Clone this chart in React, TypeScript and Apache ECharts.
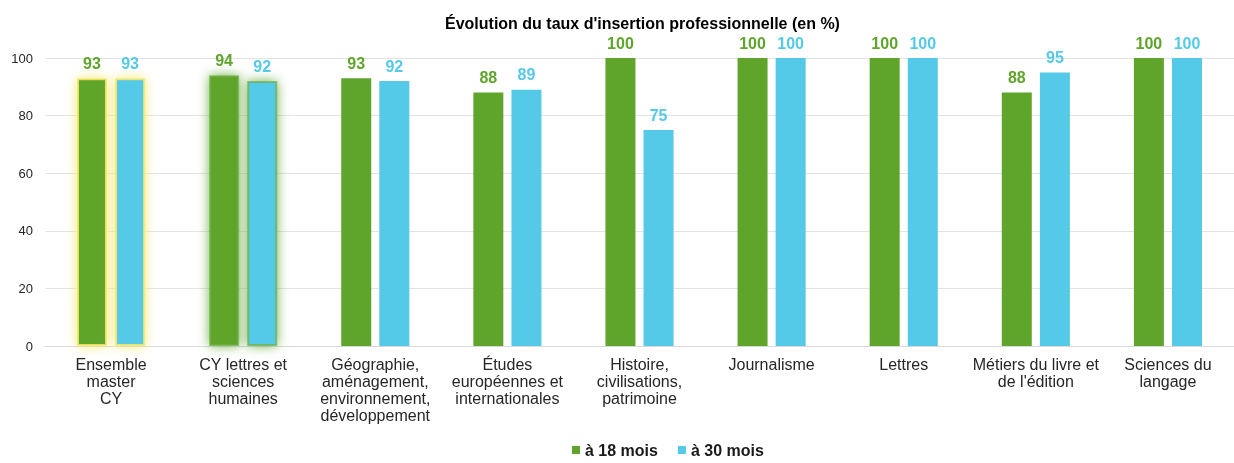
import React, { useEffect, useRef } from "react";
import * as echarts from "echarts";

const categories = [
  "Ensemble\nmaster\nCY",
  "CY lettres et\nsciences\nhumaines",
  "Géographie,\naménagement,\nenvironnement,\ndéveloppement",
  "Études\neuropéennes et\ninternationales",
  "Histoire,\ncivilisations,\npatrimoine",
  "Journalisme",
  "Lettres",
  "Métiers du livre et\nde l'édition",
  "Sciences du\nlangage",
];
const mois18 = [93, 94, 93, 88, 100, 100, 100, 88, 100];
const mois30 = [93, 92, 92, 89, 75, 100, 100, 95, 100];
const seriesNames = ["à 18 mois", "à 30 mois"];
const title = "Évolution du taux d'insertion professionnelle (en %)";

const GREEN = "#5FA52B";
const BLUE = "#54C9E8";
const glowColors: Record<number, string> = { 0: "rgba(247,233,110,1)", 1: "rgba(110,175,70,1)" };
const glowBorders: Record<number, string> = { 0: "rgba(247,233,110,0.85)", 1: "rgba(110,175,70,0.7)" };

function withGlow(values: number[]) {
  return values.map((v, i) =>
    glowColors[i]
      ? {
          value: v,
          itemStyle: {
            shadowBlur: 12,
            shadowColor: glowColors[i],
            shadowOffsetX: 0,
            shadowOffsetY: 0,
            borderColor: glowBorders[i],
            borderWidth: 2,
          },
        }
      : v
  );
}

export default function App() {
  const ref = useRef<HTMLDivElement>(null);
  useEffect(() => {
    if (!ref.current) return;
    const chart = echarts.init(ref.current, undefined, { renderer: "svg" });
    const font = "Liberation Sans, Arial, sans-serif";
    const labelStyle = (color: string) => ({
      show: true,
      position: "top",
      color,
      fontWeight: "bold",
      fontSize: 16,
      fontFamily: font,
      distance: 7,
    });
    chart.setOption({
      animation: false,
      textStyle: { fontFamily: font },
      title: {
        text: title,
        left: 440,
        top: 10,
        textStyle: { fontFamily: font, fontSize: 16, fontWeight: "bold", color: "#000" },
      },
      legend: {
        bottom: 0,
        left: 567,
        itemWidth: 8,
        itemHeight: 8,
        itemGap: 20,
        icon: "rect",
        textStyle: { fontFamily: font, fontSize: 16, fontWeight: "bold", color: "#1a1a1a" },
        data: seriesNames,
      },
      grid: { left: 45, right: -2, top: 58, bottom: 117, containLabel: false },
      xAxis: {
        type: "category",
        data: categories,
        axisTick: { show: false },
        axisLine: { show: true, lineStyle: { color: "#d9d9d9" } },
        axisLabel: { interval: 0, fontFamily: font, fontSize: 16, color: "#262626", lineHeight: 17, margin: 10 },
      },
      yAxis: {
        type: "value",
        min: 0,
        max: 100,
        interval: 20,
        axisLine: { show: false },
        axisTick: { show: false },
        splitLine: { lineStyle: { color: "#e3e3e3" } },
        axisLabel: { fontFamily: font, fontSize: 13, color: "#262626", margin: 12 },
      },
      series: [
        {
          name: seriesNames[0],
          type: "bar",
          data: withGlow(mois18),
          itemStyle: { color: GREEN },
          barWidth: 30,
          barGap: "27%",
          label: labelStyle(GREEN),
        },
        {
          name: seriesNames[1],
          type: "bar",
          data: withGlow(mois30),
          itemStyle: { color: BLUE },
          barWidth: 30,
          barGap: "27%",
          label: labelStyle(BLUE),
        },
      ],
    });
    return () => chart.dispose();
  }, []);
  return <div ref={ref} style={{ position: "fixed", left: 0, top: 0, width: 1234, height: 463 }} />;
}
